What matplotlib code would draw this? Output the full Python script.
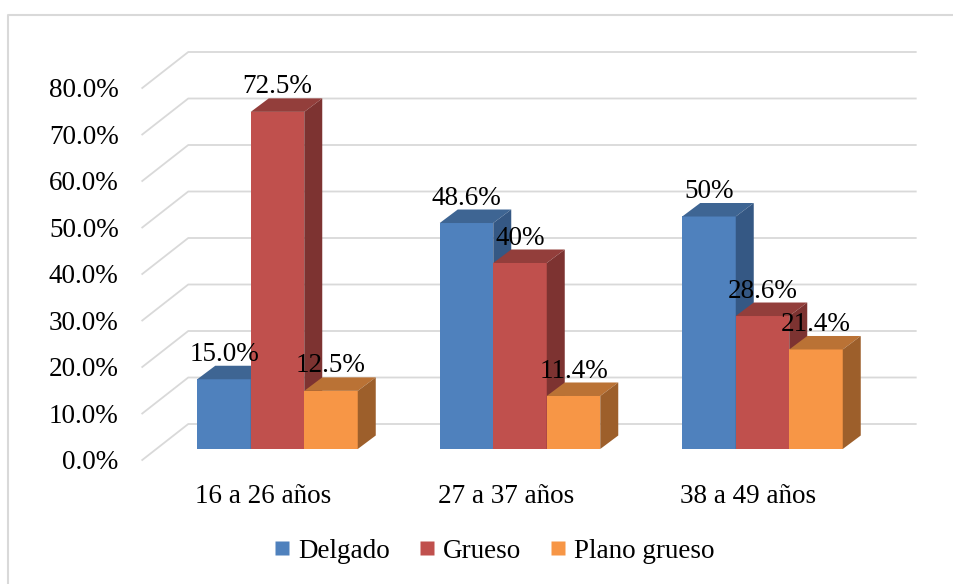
import numpy as np
import matplotlib
matplotlib.use("Agg")
from matplotlib import pyplot as plt
from matplotlib.patches import Polygon
from matplotlib.lines import Line2D

groups = ['16 a 26 años', '27 a 37 años', '38 a 49 años']
series = ['Delgado', 'Grueso', 'Plano grueso']
delgado = [15.0, 48.6, 50.0]
grueso = [72.5, 40.0, 28.6]
plano = [12.5, 11.4, 21.4]
labels_delgado = ['15.0%', '48.6%', '50%']
labels_grueso = ['72.5%', '40%', '28.6%']
labels_plano = ['12.5%', '11.4%', '21.4%']
yticks = np.arange(0, 81, 10)
ytick_labels = ['%.1f%%' % v for v in yticks]

# front, top, side shades (excel style 3d)
colors = [('#4F81BD', '#3E6593', '#355884'),
          ('#C0504D', '#933E3B', '#7D3331'),
          ('#F79646', '#BA7235', '#9D5F2B')]

plt.rcParams['font.family'] = ['Liberation Serif', 'DejaVu Serif']
fs = 19.5

fig = plt.figure(figsize=(9.54, 5.84), dpi=100)
ax = fig.add_axes([156.25 / 954, 1 - 449 / 584, 727.5 / 954, 372 / 584])
ax.set_xlim(-0.5, 2.5)
ax.set_ylim(0, 80)
ax.axis('off')

# pixel -> data unit helpers
px_x = 727.5 / 3
px_y = 372 / 80
bar_d = (18 / px_x, 13.5 / px_y)
back = (32 / px_x, 25 / px_y)
front = (-14 / px_x, -11 / px_y)

# walls / gridlines
for v, lab in zip(yticks, ytick_labels):
    ax.plot([-0.5 + front[0], -0.5 + back[0], 2.5 + back[0]],
            [v + front[1], v + back[1], v + back[1]],
            color='#D9D9D9', lw=1.3, clip_on=False, zorder=1)
    ax.annotate(lab, (-0.5 + front[0], v + front[1]), xytext=(-17, -6.5),
                textcoords='offset points', ha='right', va='baseline',
                fontsize=fs, annotation_clip=False)

w = 53.5 / px_x
x = np.arange(len(groups))
data = [(delgado, labels_delgado), (grueso, labels_grueso), (plano, labels_plano)]
for i, (vals, labs) in enumerate(data):
    cf, ct, cs = colors[i]
    xs = x + (i - 1) * w
    ax.bar(xs, vals, w, color=cf, linewidth=0, zorder=2 + i, clip_on=False)
    for xc, v, lab in zip(xs, vals, labs):
        l, r = xc - w / 2, xc + w / 2
        top = Polygon([(l, v), (r, v), (r + bar_d[0], v + bar_d[1]), (l + bar_d[0], v + bar_d[1])],
                      closed=True, facecolor=ct, edgecolor='none', zorder=2 + i, clip_on=False)
        side = Polygon([(r, 0), (r + bar_d[0], bar_d[1]), (r + bar_d[0], v + bar_d[1]), (r, v)],
                       closed=True, facecolor=cs, edgecolor='none', zorder=2 + i, clip_on=False)
        ax.add_patch(top)
        ax.add_patch(side)
        ax.annotate(lab, (xc, v), xytext=(0, 13.3), textcoords='offset points',
                    ha='center', va='baseline', fontsize=fs, zorder=10,
                    annotation_clip=False)

for g, name in zip(x, groups):
    ax.annotate(name, (g + front[0], front[1]), xytext=(0, -31), textcoords='offset points',
                ha='center', va='baseline', fontsize=fs, annotation_clip=False)

handles = [Line2D([], [], marker='s', linestyle='none', markersize=10,
                  markerfacecolor=c[0], markeredgecolor='none') for c in colors]
fig.legend(handles, series, loc='center', bbox_to_anchor=(493.5 / 954, 1 - 551 / 584),
           ncol=3, frameon=False, fontsize=fs, handlelength=0.7, handletextpad=0.25,
           columnspacing=1.0, borderpad=0)

# chart area border: only left and top edges are inside the picture
fig.add_artist(Line2D([8.5 / 954, 8.5 / 954, 1.0], [0.0, 1 - 15 / 584, 1 - 15 / 584],
                      transform=fig.transFigure, color='#D9D9D9', lw=1.5))

fig.savefig("out.png", dpi=100)
